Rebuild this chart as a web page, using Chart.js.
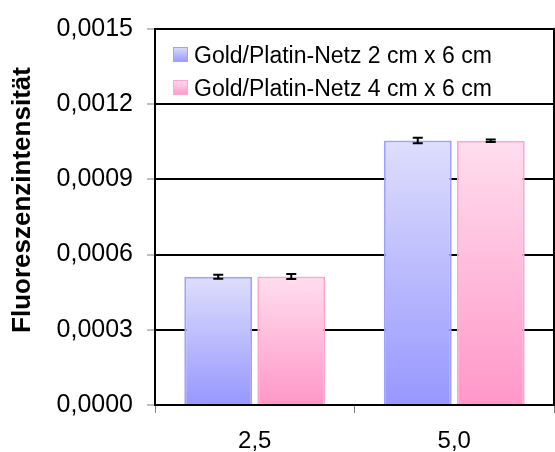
<!DOCTYPE html>
<html>
<head>
<meta charset="utf-8">
<script src="https://cdn.jsdelivr.net/npm/chart.js@4"></script>
<style>
  html, body { margin: 0; padding: 0; background: #fff; }
  #wrap { width: 555px; height: 452px; }
</style>
</head>
<body>
<div id="wrap"><canvas id="fluoChart" width="555" height="452"></canvas></div>
<script>
// concentrations on the x axis
const categories = ['2,5', '5,0'];
const seriesLabels = ['Gold/Platin-Netz 2 cm x 6 cm', 'Gold/Platin-Netz 4 cm x 6 cm'];
const net2x6 = [0.000512, 0.001055];
const net4x6 = [0.000513, 0.001054];
const net2x6Err = [0.000008, 0.000011];
const net4x6Err = [0.00001, 0.000005];
const yTickLabels = ['0,0000', '0,0003', '0,0006', '0,0009', '0,0012', '0,0015'];
const yTitle = 'Fluoreszenzintensität';

const FONT = "'Liberation Sans', Arial, sans-serif";
const blue = { top: '#dedefc', bottom: '#9797ff', line: '#a0a0ff' };
const pink = { top: '#ffdeee', bottom: '#ff97c8', line: '#ffa6d0' };

// vertical gradient from the bar top down to the zero line
function barFill(c) {
  return (ctx) => {
    const chart = ctx.chart;
    if (!chart.chartArea || ctx.type !== 'data') return c.bottom;
    const y = chart.scales.y;
    const g = chart.ctx.createLinearGradient(0, y.getPixelForValue(ctx.raw), 0, y.getPixelForValue(0));
    g.addColorStop(0, c.top);
    g.addColorStop(1, c.bottom);
    return g;
  };
}

const errorBars = {
  id: 'errorBars',
  afterDatasetsDraw(chart) {
    const ctx = chart.ctx;
    const y = chart.scales.y;
    ctx.save();
    ctx.strokeStyle = '#000';
    ctx.lineWidth = 2;
    chart.data.datasets.forEach((ds, di) => {
      chart.getDatasetMeta(di).data.forEach((bar, i) => {
        const v = ds.data[i], e = ds.errors[i];
        const yt = y.getPixelForValue(v + e), yb = y.getPixelForValue(v - e);
        ctx.beginPath();
        ctx.moveTo(bar.x, yt); ctx.lineTo(bar.x, yb);
        ctx.moveTo(bar.x - 5, yt); ctx.lineTo(bar.x + 5, yt);
        ctx.moveTo(bar.x - 5, yb); ctx.lineTo(bar.x + 5, yb);
        ctx.stroke();
      });
    });
    ctx.restore();
  }
};

// right frame line, legend inside the plot and the rotated axis title
const decorations = {
  id: 'decorations',
  afterDraw(chart) {
    const ctx = chart.ctx;
    const a = chart.chartArea;
    ctx.save();
    ctx.strokeStyle = '#000';
    ctx.lineWidth = 2;
    ctx.beginPath();
    ctx.moveTo(a.right, a.top - 1);
    ctx.lineTo(a.right, a.bottom + 1);
    ctx.stroke();

    const cols = [blue, pink];
    ctx.font = '23px ' + FONT;
    ctx.fillStyle = '#000';
    ctx.textBaseline = 'alphabetic';
    seriesLabels.forEach((txt, i) => {
      const bx = a.left + 18, by = a.top + 18 + i * 33;
      const g = ctx.createLinearGradient(0, by, 0, by + 15);
      g.addColorStop(0, cols[i].top);
      g.addColorStop(1, cols[i].bottom);
      ctx.fillStyle = g;
      ctx.fillRect(bx, by, 15, 15);
      ctx.strokeStyle = cols[i].line;
      ctx.lineWidth = 1;
      ctx.strokeRect(bx + 0.5, by + 0.5, 14, 14);
      ctx.fillStyle = '#000';
      ctx.fillText(txt, a.left + 39, by + 16);
    });

    ctx.translate(23, 200);
    ctx.rotate(-Math.PI / 2);
    ctx.font = 'bold 26px ' + FONT;
    ctx.textAlign = 'center';
    ctx.textBaseline = 'middle';
    ctx.fillText(yTitle, 0, 0);
    ctx.restore();
  }
};

new Chart(document.getElementById('fluoChart'), {
  type: 'bar',
  data: {
    labels: categories,
    datasets: [
      { label: seriesLabels[0], data: net2x6, errors: net2x6Err,
        backgroundColor: barFill(blue), borderColor: blue.line, borderWidth: 2 },
      { label: seriesLabels[1], data: net4x6, errors: net4x6Err,
        backgroundColor: barFill(pink), borderColor: pink.line, borderWidth: 2 }
    ]
  },
  options: {
    responsive: false,
    animation: false,
    devicePixelRatio: 1,
    categoryPercentage: 0.732,
    barPercentage: 0.93,
    layout: { padding: { top: 25, right: 1, left: 0, bottom: 0 } },
    plugins: {
      legend: { display: false },
      tooltip: { enabled: false }
    },
    scales: {
      x: {
        afterFit: (s) => { s.height = 47; },
        grid: { offset: true, drawOnChartArea: false, tickLength: 8, tickColor: '#808080', tickWidth: 1 },
        border: { color: '#000', width: 2 },
        ticks: { color: '#000', padding: 14, font: { family: FONT, size: 24 } }
      },
      y: {
        min: 0,
        max: 0.0015,
        afterFit: (s) => { s.width = 155; },
        grid: { color: '#000', lineWidth: 2, tickLength: 8, tickColor: '#808080', tickWidth: 1 },
        border: { color: '#000', width: 2 },
        ticks: {
          stepSize: 0.0003,
          color: '#000',
          padding: 14,
          font: { family: FONT, size: 25 },
          callback: (value, i) => yTickLabels[i]
        }
      }
    }
  },
  plugins: [errorBars, decorations]
});
</script>
</body>
</html>
